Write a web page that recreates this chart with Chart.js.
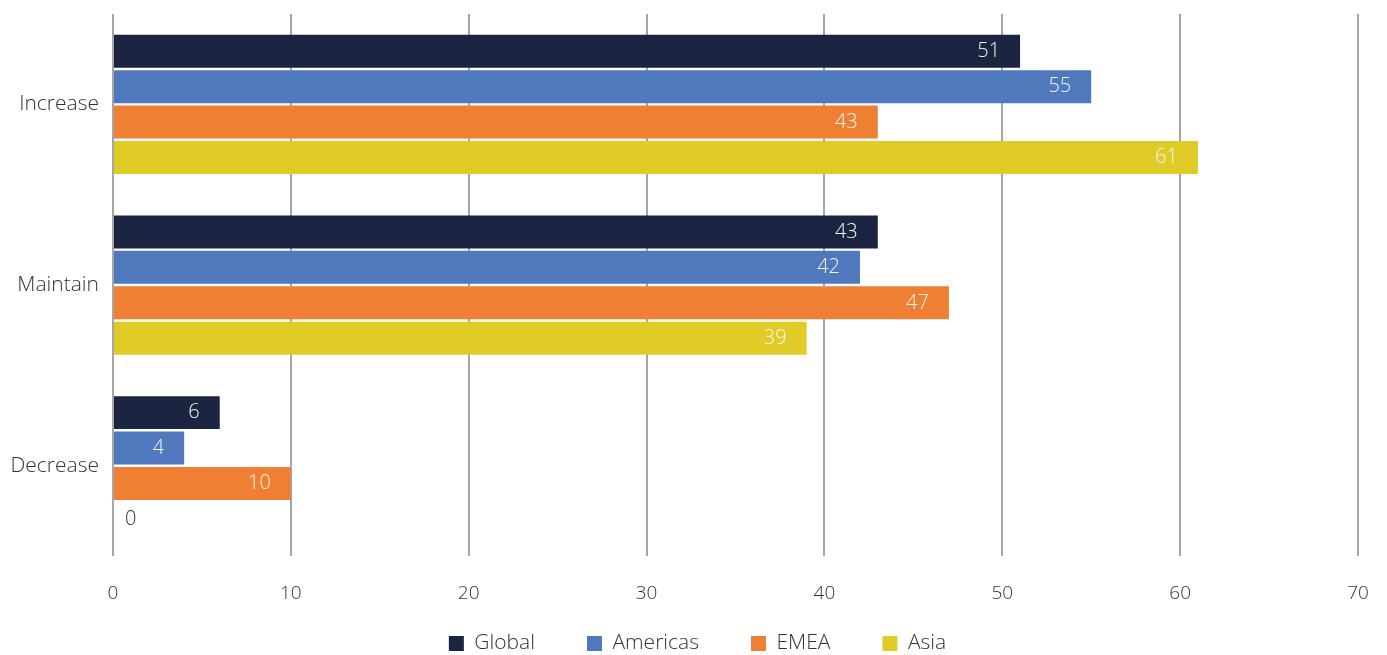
<!DOCTYPE html>
<html><head><meta charset="utf-8">
<script src="https://cdn.jsdelivr.net/npm/chart.js@4"></script>
<style>html,body{margin:0;padding:0;background:#fff;}#wrap{width:1387px;height:655px;}</style>
</head><body><div id="wrap"><canvas id="c" width="1387" height="655"></canvas></div>
<script>
const categories = ["Increase", "Maintain", "Decrease"];
const seriesNames = ["Global", "Americas", "EMEA", "Asia"];
const globalVals = [51, 43, 6];
const americasVals = [55, 42, 4];
const emeaVals = [43, 47, 10];
const asiaVals = [61, 39, 0];
const xTicks = [0, 10, 20, 30, 40, 50, 60, 70];
const colors = ["#1b2541", "#4f78bd", "#ef7f33", "#e1cb27"];

const FONT = "'Open Sans', 'Noto Sans', sans-serif";

const labelPlugin = {
  id: 'barLabels',
  afterDatasetsDraw(chart) {
    const ctx = chart.ctx;
    ctx.save();
    ctx.font = "300 20px " + FONT;
    ctx.textBaseline = 'middle';
    chart.data.datasets.forEach((ds, i) => {
      const meta = chart.getDatasetMeta(i);
      meta.data.forEach((bar, j) => {
        const v = ds.data[j];
        if (v === 0) {
          ctx.fillStyle = '#333';
          ctx.textAlign = 'left';
          ctx.fillText(String(v), bar.base + 12, bar.y);
        } else {
          ctx.fillStyle = '#f4f4f4';
          ctx.textAlign = 'right';
          ctx.fillText(String(v), bar.x - 20, bar.y);
        }
      });
    });
    ctx.restore();
  }
};

const legendShift = {
  id: 'legendShift',
  afterLayout(chart) {
    const lg = chart.legend;
    if (!lg) return;
    const dx = 4, dy = -50;
    lg.left += dx; lg.right += dx;
    lg.top += dy; lg.bottom += dy;
  }
};

new Chart(document.getElementById('c'), {
  type: 'bar',
  data: {
    labels: categories,
    datasets: [globalVals, americasVals, emeaVals, asiaVals].map((d, i) => ({
      label: seriesNames[i],
      data: d,
      backgroundColor: colors[i],
      borderWidth: 0,
      categoryPercentage: 0.785,
      barPercentage: 0.93
    }))
  },
  options: {
    indexAxis: 'y',
    responsive: false,
    animation: false,
    layout: { padding: { top: 0, right: 0, left: 0, bottom: -59 } },
    scales: {
      x: {
        min: 0, max: 70,
        afterBuildTicks(s) { s.ticks = xTicks.map(v => ({ value: v })); },
        grid: { color: '#a6a6a6', lineWidth: 2, drawTicks: false },
        border: { display: false },
        ticks: { color: '#333', font: { family: FONT, size: 19, weight: 300 }, padding: 26 },
        afterFit(s) { s.paddingLeft = 0; s.paddingRight = 29; }
      },
      y: {
        grid: { display: false, drawTicks: false },
        border: { display: false },
        ticks: { color: '#333', font: { family: FONT, size: 21, weight: 300 }, padding: 14 },
        afterFit(s) { s.width = 113; s.paddingTop = 14; s.paddingBottom = 0; }
      }
    },
    plugins: {
      legend: {
        position: 'bottom',
        labels: {
          color: '#333',
          font: { family: FONT, size: 21, weight: 300 },
          boxWidth: 15, boxHeight: 15, padding: 52
        }
      },
      tooltip: { enabled: false }
    }
  },
  plugins: [labelPlugin, legendShift]
});
</script></body></html>
